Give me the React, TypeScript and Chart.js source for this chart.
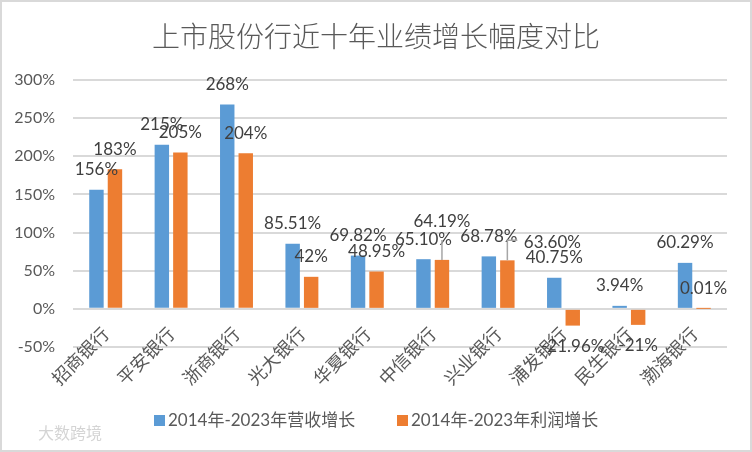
import React, { useEffect, useRef } from "react";
import { Chart, registerables } from "chart.js";

Chart.register(...registerables);

// ---------- data ----------
const chartTitle = "上市股份行近十年业绩增长幅度对比";
const categories = ["招商银行", "平安银行", "浙商银行", "光大银行", "华夏银行", "中信银行", "兴业银行", "浦发银行", "民生银行", "渤海银行"];
const seriesNames = ["2014年-2023年营收增长", "2014年-2023年利润增长"];
const revenueGrowth = [156, 215, 268, 85.51, 69.82, 65.1, 68.78, 40.75, 3.94, 60.29];
const profitGrowth = [183, 205, 204, 42, 48.95, 64.19, 63.6, -21.96, -21, 0.01];
const revenueLabels = ["156%", "215%", "268%", "85.51%", "69.82%", "65.10%", "68.78%", "40.75%", "3.94%", "60.29%"];
const profitLabels = ["183%", "205%", "204%", "42%", "48.95%", "64.19%", "63.60%", "-21.96%", "-21%", "0.01%"];
const yMin = -50;
const yMax = 300;
const yStep = 50;
const watermark = "大数跨境";

// ---------- style ----------
const BLUE = "#5B9BD5";
const ORANGE = "#ED7D31";
const GRID = "#D9D9D9";
const TICK = "#595959";
const LABEL = "#404040";
const LATIN = "Lato, 'Noto Sans CJK SC', sans-serif";
const CJK = "'Noto Sans CJK SC', sans-serif";

// label placements moved by hand in the reference (dataset index -> point index -> offset)
const movedLabels: Record<number, Record<number, { dx: number; dy: number; elbow: boolean }>> = {
  1: {
    5: { dx: 0, dy: -38, elbow: false },
    6: { dx: 45, dy: -18, elbow: true },
  },
};

const labelTexts = [revenueLabels, profitLabels];

const decorPlugin = {
  id: "decor",
  beforeDraw(chart: any) {
    const ctx = chart.ctx;
    ctx.save();
    ctx.fillStyle = "#ffffff";
    ctx.fillRect(0, 0, chart.width, chart.height);
    ctx.restore();
  },
  afterDraw(chart: any) {
    const ctx = chart.ctx;
    ctx.save();
    // title
    ctx.fillStyle = TICK;
    ctx.font = `300 28px ${CJK}`;
    ctx.textAlign = "center";
    ctx.textBaseline = "middle";
    ctx.fillText(chartTitle, 376, 36);

    // legend
    const items = [
      { x: 154, color: BLUE, text: chart.data.datasets[0].label },
      { x: 397, color: ORANGE, text: chart.data.datasets[1].label },
    ];
    ctx.font = `17px ${LATIN}`;
    ctx.textAlign = "left";
    items.forEach((it) => {
      ctx.fillStyle = it.color;
      ctx.fillRect(it.x, 415, 11, 11);
      ctx.fillStyle = TICK;
      ctx.fillText(it.text, it.x + 14, 421);
    });

    // watermark
    ctx.fillStyle = "#d4d4d4";
    ctx.font = `16px ${CJK}`;
    ctx.fillText(watermark, 38, 433);

    // border
    ctx.strokeStyle = GRID;
    ctx.lineWidth = 2;
    ctx.strokeRect(1, 1, chart.width - 2, chart.height - 2);
    ctx.restore();
  },
};

const dataLabelPlugin = {
  id: "barLabels",
  afterDatasetsDraw(chart: any) {
    const ctx = chart.ctx;
    ctx.save();
    ctx.font = `17px ${LATIN}`;
    ctx.textAlign = "center";
    ctx.textBaseline = "middle";
    chart.data.datasets.forEach((ds: any, d: number) => {
      const meta = chart.getDatasetMeta(d);
      meta.data.forEach((bar: any, i: number) => {
        const { x, y } = bar.getProps(["x", "y"], true);
        const v = ds.data[i];
        const moved = movedLabels[d] && movedLabels[d][i];
        let cx = x;
        let cy = v >= 0 ? y - 20 : y + 21;
        if (moved) {
          cx = x + moved.dx;
          cy = y + moved.dy;
          ctx.strokeStyle = "#A6A6A6";
          ctx.lineWidth = 1.5;
          ctx.beginPath();
          ctx.moveTo(x, y);
          ctx.lineTo(x, y - 20);
          if (moved.elbow) ctx.lineTo(x + 10, y - 20);
          ctx.stroke();
        }
        ctx.fillStyle = LABEL;
        ctx.fillText(labelTexts[d][i], cx, cy);
      });
    });
    ctx.restore();
  },
};

export default function App() {
  const ref = useRef<HTMLCanvasElement | null>(null);

  useEffect(() => {
    if (!ref.current) return;
    const chart = new Chart(ref.current, {
      type: "bar",
      data: {
        labels: categories,
        datasets: [
          {
            label: seriesNames[0],
            data: revenueGrowth,
            backgroundColor: BLUE,
            barPercentage: 0.78,
            categoryPercentage: 0.566,
          },
          {
            label: seriesNames[1],
            data: profitGrowth,
            backgroundColor: ORANGE,
            barPercentage: 0.78,
            categoryPercentage: 0.566,
          },
        ],
      },
      options: {
        responsive: false,
        animation: false,
        devicePixelRatio: 1,
        layout: { padding: { top: 80, right: 25, bottom: 105, left: 0 } },
        plugins: {
          legend: { display: false },
          title: { display: false },
          tooltip: { enabled: false },
        },
        scales: {
          x: {
            position: { y: 0 } as any,
            grid: { display: false, drawTicks: false },
            border: { display: false },
            ticks: {
              minRotation: 45,
              maxRotation: 45,
              autoSkip: false,
              padding: 14,
              color: TICK,
              font: { size: 18, family: CJK },
            },
          },
          y: {
            min: yMin,
            max: yMax,
            afterFit: (scale: any) => {
              scale.width = 73;
            },
            grid: { color: GRID, lineWidth: 2, drawTicks: false },
            border: { display: false },
            ticks: {
              stepSize: yStep,
              padding: 18,
              color: TICK,
              font: { size: 16, family: LATIN },
              callback: (v: any) => `${v}%`,
            },
          },
        },
      },
      plugins: [decorPlugin, dataLabelPlugin],
    });
    return () => chart.destroy();
  }, []);

  return (
    <div style={{ position: "absolute", left: 0, top: 0, width: 752, height: 452 }}>
      <canvas ref={ref} width={752} height={452} style={{ display: "block" }} />
    </div>
  );
}
